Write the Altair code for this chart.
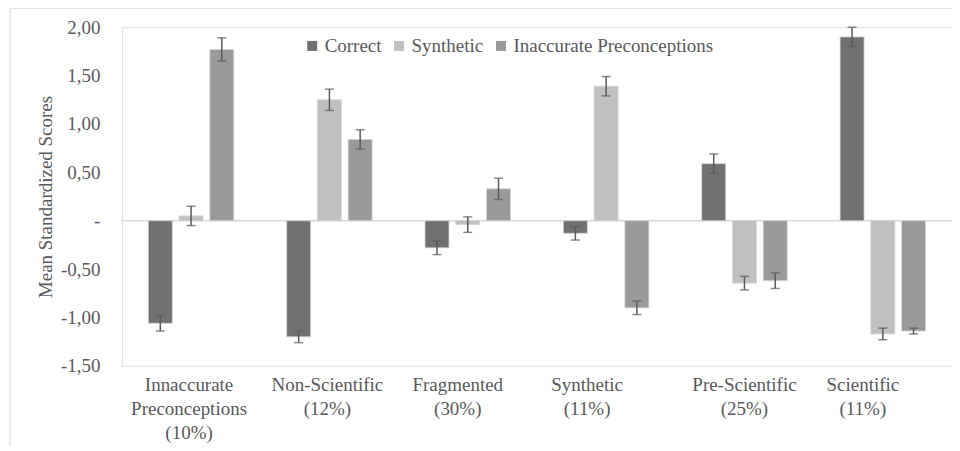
import altair as alt
import pandas as pd

categories = ["Innaccurate Preconceptions (10%)", "Non-Scientific (12%)", "Fragmented (30%)",
              "Synthetic (11%)", "Pre-Scientific (25%)", "Scientific (11%)"]
series = ["Correct", "Synthetic", "Inaccurate Preconceptions"]
colors = ["#717171", "#c0c0c0", "#9a9a9a"]

correct = [-1.06, -1.20, -0.28, -0.13, 0.59, 1.90]
correct_err = [0.08, 0.06, 0.07, 0.07, 0.10, 0.10]
synthetic = [0.05, 1.25, -0.04, 1.39, -0.645, -1.17]
synthetic_err = [0.10, 0.11, 0.08, 0.10, 0.07, 0.06]
inaccurate = [1.77, 0.84, 0.33, -0.90, -0.62, -1.14]
inaccurate_err = [0.12, 0.10, 0.11, 0.07, 0.08, 0.03]

rows = []
for vals, errs, s in [(correct, correct_err, series[0]),
                      (synthetic, synthetic_err, series[1]),
                      (inaccurate, inaccurate_err, series[2])]:
    for c, v, e in zip(categories, vals, errs):
        rows.append({"category": c, "series": s, "value": v, "lo": v - e, "hi": v + e})
df = pd.DataFrame(rows)

FONT = "Liberation Serif"
TXT = "#595959"

label_shift = {
    "condition": [
        {"test": "datum.value === 'Fragmented (30%)'", "value": -10},
        {"test": "datum.value === 'Synthetic (11%)'", "value": -19},
        {"test": "datum.value === 'Scientific (11%)'", "value": -20},
        {"test": "datum.value === 'Pre-Scientific (25%)'", "value": 0},
    ],
    "value": -2,
}

x_enc = alt.X("category:N", sort=categories, title=None,
              scale=alt.Scale(paddingInner=0, paddingOuter=0),
              axis=alt.Axis(labelExpr="split(datum.label, ' ')", labelAngle=0,
                            labelFontSize=19, labelLineHeight=24, labelPadding=10,
                            labelColor=TXT, labelFont=FONT, domain=False, ticks=False,
                            labelBaseline="top", labelOffset=label_shift))
xoff = alt.XOffset("series:N", sort=series,
                   scale=alt.Scale(paddingInner=0.22, paddingOuter=0.86))

y_scale = alt.Scale(domain=[-1.5, 2.0], nice=False, zero=False)

base = alt.Chart(df)

bars = base.mark_bar(stroke="#d6d6d6", strokeWidth=0.8).encode(
    x=x_enc,
    xOffset=xoff,
    y=alt.Y("value:Q", scale=y_scale, title="Mean Standardized Scores",
            axis=alt.Axis(values=[-1.5, -1.0, -0.5, 0, 0.5, 1.0, 1.5, 2.0],
                          labelExpr="datum.value == 0 ? '-' : (datum.value < 0 ? '-' : '') + replace(format(abs(datum.value), '.2f'), '.', ',')",
                          grid=False, domain=False, ticks=False,
                          labelFontSize=19, labelColor=TXT, labelFont=FONT, labelPadding=22,
                          titleFontSize=19, titleColor=TXT, titleFont=FONT,
                          titleFontWeight="normal", titlePadding=5)),
    y2=alt.datum(0),
    color=alt.Color("series:N", sort=series,
                    scale=alt.Scale(domain=series, range=colors),
                    legend=alt.Legend(title=None, orient="none", legendX=181, legendY=9,
                                      direction="horizontal", symbolType="square",
                                      symbolSize=100, symbolStrokeWidth=0,
                                      labelFontSize=19, labelFont=FONT, labelColor=TXT,
                                      labelLimit=0, columnPadding=8, labelOffset=3)),
)

zero = alt.Chart(pd.DataFrame({"z": [0]})).mark_rule(color="#d9d9d9", strokeWidth=1.5).encode(
    y=alt.Y("z:Q", scale=y_scale)
)

err = base.mark_rule(color="#5a5a5a", strokeWidth=1.5).encode(
    x=alt.X("category:N", sort=categories), xOffset=xoff,
    y=alt.Y("lo:Q", scale=y_scale), y2="hi:Q")
cap_lo = base.mark_tick(color="#5a5a5a", thickness=1.5, size=9).encode(
    x=alt.X("category:N", sort=categories), xOffset=xoff,
    y=alt.Y("lo:Q", scale=y_scale))
cap_hi = base.mark_tick(color="#5a5a5a", thickness=1.5, size=9).encode(
    x=alt.X("category:N", sort=categories), xOffset=xoff,
    y=alt.Y("hi:Q", scale=y_scale))

border_top = alt.Chart(pd.DataFrame({"a": [0]})).mark_rule(color="#e3e3e3", strokeWidth=1.5).encode(
    x=alt.value(-112), x2=alt.value(831), y=alt.value(-19))
border_left = alt.Chart(pd.DataFrame({"a": [0]})).mark_rule(color="#e3e3e3", strokeWidth=1.5).encode(
    x=alt.value(-112), y=alt.value(-19), y2=alt.value(430))

chart = alt.layer(border_top, border_left, zero, bars, err, cap_lo, cap_hi).properties(
    width=831, height=339,
    autosize=alt.AutoSizeParams(type="none"),
    padding={"left": 114, "top": 19, "right": 0, "bottom": 80},
).configure_view(stroke=None).configure(background="white", font=FONT)

chart.save("out.html", embed_options={"renderer": "svg", "actions": False})
